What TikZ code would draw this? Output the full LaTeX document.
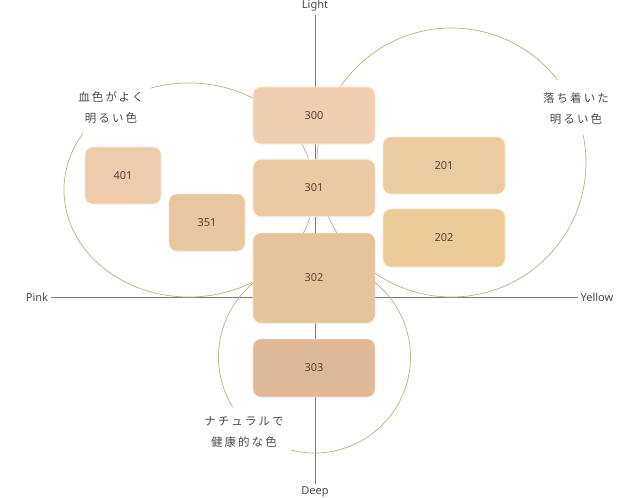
\documentclass[tikz,border=0pt]{standalone}
\usepackage{fontspec}
\setmainfont{Noto Sans}
\newfontfamily\jpfont[LetterSpace=18]{Noto Sans CJK JP}
\usetikzlibrary{positioning}
\definecolor{ringcol}{HTML}{BFAE7E}
\definecolor{axiscol}{HTML}{7A7A7A}
\definecolor{numcol}{HTML}{554539}
\definecolor{txtcol}{HTML}{4A4A4A}
\definecolor{c300}{HTML}{EFCFAF}
\definecolor{c301}{HTML}{EBC9A3}
\definecolor{c302}{HTML}{E5C39B}
\definecolor{c303}{HTML}{DDB899}
\definecolor{c401}{HTML}{EDCBAC}
\definecolor{c351}{HTML}{E8C6A1}
\definecolor{c201}{HTML}{EBCBA0}
\definecolor{c202}{HTML}{EDCB98}

\begin{document}
\begin{tikzpicture}[x=1pt,y=1pt,
box/.style={rectangle,rounded corners=8pt,fill=#1,draw=white!55!#1,line width=.6pt,
 text=numcol,font=\fontsize{11}{13}\selectfont,minimum width=122pt,minimum height=57pt,inner sep=0pt},
axlbl/.style={text=txtcol,font=\fontsize{11}{13}\selectfont,inner sep=1pt,outer sep=2pt},
jplbl/.style={text=txtcol,font=\jpfont\fontsize{11.5}{21}\selectfont,align=center},
axis/.style={draw=axiscol,line width=.8pt},
ring/.style={draw=ringcol,line width=.7pt}]
\useasboundingbox (0,0) rectangle (640,-498);
\node[axlbl] (light) at (315,-6) {Light};
\node[axlbl] (deep) at (315,-492) {Deep};
\node[axlbl] (pink) at (37,-297.5) {Pink};
\node[axlbl] (yellow) at (597,-297.5) {Yellow};
\draw[axis] (light) -- (deep);
\draw[axis] (pink) -- (yellow);
\coordinate (cpink) at (189,-190);
\coordinate (cyellow) at (451.5,-162.5);
\coordinate (cdeep) at (314.5,-357);
\draw[ring] (cpink) ++(148:125pt and 107pt) arc[start angle=148,end angle=468,x radius=125pt,y radius=107pt];
\draw[ring] (cyellow) ++(38:134.5pt) arc[start angle=38,end angle=372,radius=134.5pt];
\draw[ring] (cdeep) ++(255.8:96pt) arc[start angle=255.8,end angle=571.5,radius=96pt];
\node[jplbl] (pinkdesc) at (111,-107.5) {血色がよく\\明るい色};
\node[jplbl] (yellowdesc) at (576,-108.5) {落ち着いた\\明るい色};
\node[jplbl] (deepdesc) at (244,-432.5) {ナチュラルで\\健康的な色};
\node[box=c300] (b300) at (314,-115.5) {300};
\node[box=c301] (b301) at (314,-188) {301};
\node[box=c302,minimum height=90pt] (b302) at (314,-278) {302};
\node[box=c303,minimum height=58pt] (b303) at (314,-368) {303};
\node[box=c401,minimum width=76pt] (b401) at (123,-175.5) {401};
\node[box=c351,minimum width=76pt] (b351) at (207,-222.5) {351};
\node[box=c201] (b201) at (444,-165.5) {201};
\node[box=c202,minimum height=58pt] (b202) at (444,-238) {202};
\end{tikzpicture}
\end{document}
